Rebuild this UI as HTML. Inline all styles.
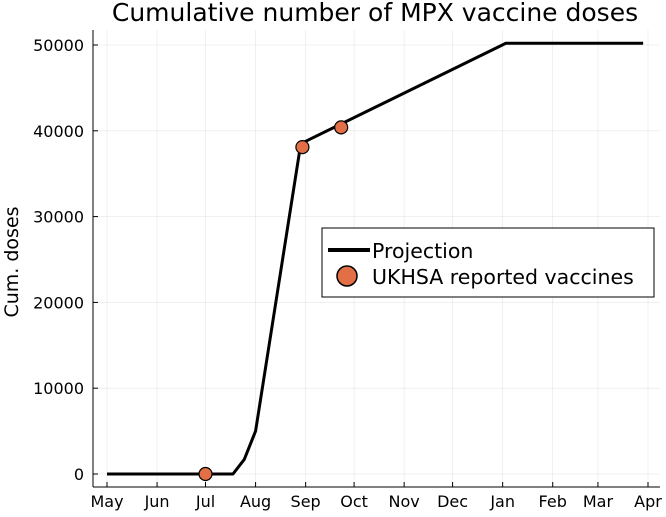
<!DOCTYPE html>
<html><head><meta charset="utf-8"><style>body{margin:0;background:#fff}svg{font-family:"DejaVu Sans","Liberation Sans",sans-serif}</style></head>
<body>
<svg id="c" width="666" height="512"></svg>
<script>
const monthLabels=["May","Jun","Jul","Aug","Sep","Oct","Nov","Dec","Jan","Feb","Mar","Apr"];
const monthDays=[0,31,61,92,123,153,184,214,245,276,304,335];
const yTicks=[0,10000,20000,30000,40000,50000];
const projDays=[0,78,85,92,120,247,332];
const projValues=[0,0,1700,5000,38500,50200,50200];
const obsDays=[61,121,145];
const obsValues=[0,38100,40400];
const NS="http://www.w3.org/2000/svg";
const svg=document.getElementById('c');
const X=d=>107+d*(541/335);
const Y=v=>474-v*(429/50000);
function el(t,a,p){const e=document.createElementNS(NS,t);for(const k in a)e.setAttribute(k,a[k]);(p||svg).appendChild(e);return e;}
const grid=el('g',{});


monthDays.forEach(d=>el('line',{x1:X(d),x2:X(d),y1:30,y2:487,stroke:'#000','stroke-opacity':0.1,'stroke-width':0.6},grid));
yTicks.forEach(v=>el('line',{x1:93,x2:660,y1:Y(v),y2:Y(v),stroke:'#000','stroke-opacity':0.1,'stroke-width':0.6},grid));
const ax=el('g',{});


el('line',{x1:93,x2:93,y1:30,y2:487,stroke:'#000','stroke-width':1},ax);
el('line',{x1:93,x2:660,y1:487,y2:487,stroke:'#000','stroke-width':1},ax);
monthDays.forEach((d,i)=>{el('line',{x1:X(d),x2:X(d),y1:487,y2:482,stroke:'#000'},ax);
const t=el('text',{x:X(d),y:507,'text-anchor':'middle','font-size':16},ax);t.textContent=monthLabels[i];

});
yTicks.forEach(v=>{el('line',{x1:93,x2:98,y1:Y(v),y2:Y(v),stroke:'#000'},ax);
const t=el('text',{x:84,y:Y(v)+6,'text-anchor':'end','font-size':16},ax);t.textContent=v;

});
const yt=el('text',{x:0,y:0,transform:'translate(18,262) rotate(-90)','text-anchor':'middle','font-size':19});yt.textContent='Cum. doses';


const tt=el('text',{x:375,y:21,'text-anchor':'middle','font-size':25});tt.textContent='Cumulative number of MPX vaccine doses';


const line=el('polyline',{points:projDays.map((d,i)=>X(d)+','+Y(projValues[i])).join(' '),fill:'none',stroke:'#000','stroke-width':3,'stroke-linejoin':'round'});


obsDays.forEach((d,i)=>{const c=el('circle',{cx:X(d),cy:Y(obsValues[i]),r:6.5,fill:'#e26f46',stroke:'#000','stroke-width':1.2});

});
const lg=el('g',{});


el('rect',{x:322,y:228,width:332,height:69,fill:'#fff',stroke:'#000','stroke-width':1},lg);
el('line',{x1:328,x2:370,y1:250,y2:250,stroke:'#000','stroke-width':4},lg);
const l1=el('text',{x:372,y:258,'font-size':20.5},lg);l1.textContent='Projection';
el('circle',{cx:347,cy:276,r:10,fill:'#e26f46',stroke:'#000','stroke-width':1.5},lg);
const l2=el('text',{x:372,y:284,'font-size':20.5},lg);l2.textContent='UKHSA reported vaccines';
</script>
</body></html>
